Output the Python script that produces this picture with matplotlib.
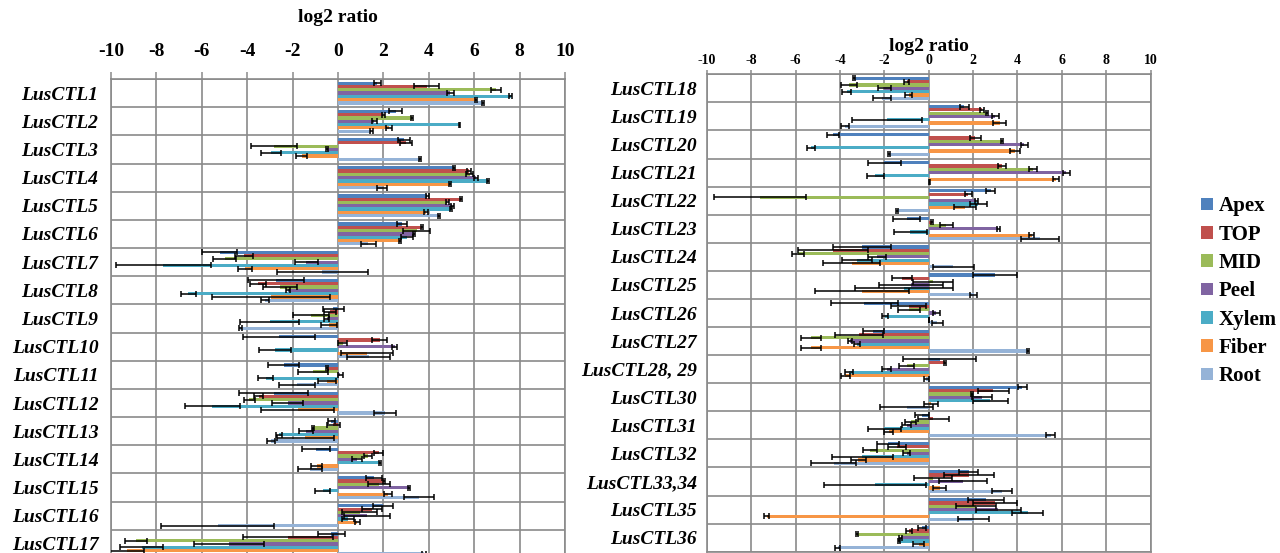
import numpy as np
import matplotlib
matplotlib.use('Agg')
import matplotlib.pyplot as plt
from matplotlib.patches import Patch

plt.rcParams['font.family'] = ['Liberation Serif', 'DejaVu Serif']

series = ['Apex', 'TOP', 'MID', 'Peel', 'Xylem', 'Fiber', 'Root']
colors = ['#4F81BD', '#C0504D', '#9BBB59', '#8064A2', '#4BACC6', '#F79646', '#95B3D7']

# ---- left panel: LusCTL1 - LusCTL17 ----
genes_left = ['LusCTL1', 'LusCTL2', 'LusCTL3', 'LusCTL4', 'LusCTL5', 'LusCTL6',
              'LusCTL7', 'LusCTL8', 'LusCTL9', 'LusCTL10', 'LusCTL11', 'LusCTL12',
              'LusCTL13', 'LusCTL14', 'LusCTL15', 'LusCTL16', 'LusCTL17']
apex_l = [1.74, 2.54, 2.9, 5.12, 3.94, 2.82, -5.2, -2.72, -0.2, -2.6, -2.4, -2.84, -0.3, -0.97, 1.57, 2.0, -0.3]
top_l = [3.9, 2.0, 3.0, 5.78, 5.41, 3.69, -4.15, -3.53, -0.35, 1.84, -0.5, -3.5, -0.2, 1.79, 2.03, 1.5, -2.2]
mid_l = [6.96, 3.25, -2.82, 5.8, 4.82, 3.46, -5.0, -2.54, -1.2, 0.2, -1.09, -3.9, -1.1, 1.31, 1.81, 0.96, -8.9]
peel_l = [4.94, 1.6, -0.47, 6.07, 5.04, 3.35, -1.4, -2.2, -0.5, 2.5, 0.1, -2.22, -1.4, 0.85, 3.13, 1.28, -4.8]
xylem_l = [7.6, 5.34, -2.96, 6.6, 4.97, 3.03, -7.7, -6.6, -3.0, -2.76, -3.19, -5.53, -2.6, 1.85, -0.68, 0.44, -8.65]
fiber_l = [6.07, 2.25, -1.6, 4.93, 3.87, 2.72, -4.1, -2.94, -0.4, 1.27, -0.5, -1.78, -1.44, -0.94, 2.2, 0.85, -9.3]
root_l = [6.4, 1.47, 3.6, 1.94, 4.46, 1.34, -0.7, -3.2, -4.3, 1.35, -1.8, 2.06, -2.95, -1.22, 3.56, -5.3, 3.8]

apex_l_err = [0.15, 0.3, 0.25, 0.05, 0.05, 0.2, 0.77, 1.24, 0.45, 1.57, 0.7, 1.5, 0.15, 0.6, 0.35, 0.44, 0.6]
top_l_err = [0.55, 0.05, 0.25, 0.1, 0.05, 0.05, 0.4, 0.36, 0.25, 0.33, 0.05, 0.2, 0.3, 0.2, 0.05, 0.45, 2.0]
mid_l_err = [0.2, 0.05, 1.0, 0.15, 0.05, 0.6, 0.5, 0.75, 0.8, 0.2, 0.66, 0.24, 0.05, 0.17, 0.48, 0.77, 0.5]
peel_l_err = [0.15, 0.1, 0.05, 0.1, 0.05, 0.05, 0.5, 0.1, 0.1, 0.1, 0.1, 0.7, 0.3, 0.22, 0.05, 1.0, 1.55]
xylem_l_err = [0.05, 0.02, 0.43, 0.05, 0.05, 0.27, 2.1, 0.33, 1.3, 0.7, 0.32, 1.2, 0.15, 0.05, 0.33, 0.26, 0.95]
fiber_l_err = [0.05, 0.15, 0.25, 0.05, 0.1, 0.05, 0.3, 2.6, 0.35, 1.15, 0.4, 1.6, 1.26, 0.24, 0.18, 0.1, 0.75]
root_l_err = [0.05, 0.05, 0.05, 0.2, 0.05, 0.33, 2.0, 0.18, 0.05, 0.95, 0.78, 0.48, 0.18, 0.53, 0.65, 2.5, 0.08]

# ---- right panel: LusCTL18 - LusCTL36 ----
genes_right = ['LusCTL18', 'LusCTL19', 'LusCTL20', 'LusCTL21', 'LusCTL22', 'LusCTL23',
               'LusCTL24', 'LusCTL25', 'LusCTL26', 'LusCTL27', 'LusCTL28, 29', 'LusCTL30',
               'LusCTL31', 'LusCTL32', 'LusCTL33,34', 'LusCTL35', 'LusCTL36']
apex_r = [-3.36, 1.6, -4.3, -2.0, 2.8, -1.0, -3.0, 3.0, -2.9, -2.5, 0.5, 4.22, -0.3, -1.85, 1.8, 2.58, -0.3]
top_r = [-1.0, 2.39, 2.1, 3.3, 1.78, 0.15, -4.3, -1.2, -0.9, -3.15, 0.73, 2.9, 0.2, -1.43, 1.82, 3.0, -0.9]
mid_r = [-3.6, 2.64, 3.29, 4.7, -7.6, 0.8, -5.9, 0.2, -0.9, -5.3, -1.0, 1.94, -0.8, -2.66, 0.2, 2.15, -3.24]
peel_r = [-2.0, 3.0, 4.31, 6.2, 2.15, 3.14, -2.33, -0.8, 0.35, -3.55, -1.9, 2.4, -1.0, -1.0, 1.55, 3.14, -1.27]
xylem_r = [-3.7, -1.86, -5.3, -2.4, 2.24, -0.83, -3.24, -1.1, -1.97, -3.23, -3.6, 2.78, -2.0, -3.0, -2.4, 4.47, -1.35]
fiber_r = [-0.9, 3.2, 3.89, 5.75, 1.62, 4.64, -3.47, -3.0, 0.0, -5.3, -3.75, 0.1, -1.8, -3.18, 0.5, -7.3, -0.45]
root_r = [-2.1, -3.77, -1.79, 0.05, -1.44, 5.0, 1.1, 2.03, 0.38, 4.49, -0.1, -1.0, 5.5, -4.28, 3.3, 2.03, -4.1]

apex_r_err = [0.05, 0.2, 0.27, 0.74, 0.2, 0.6, 1.3, 1.0, 1.5, 0.47, 1.65, 0.19, 0.3, 0.5, 0.43, 0.8, 0.2]
top_r_err = [0.1, 0.1, 0.25, 0.2, 0.15, 0.05, 1.58, 0.44, 0.8, 1.07, 0.05, 0.7, 0.7, 0.4, 1.13, 1.0, 0.13]
mid_r_err = [0.35, 0.05, 0.05, 0.17, 2.07, 0.28, 0.27, 0.9, 0.5, 0.43, 0.34, 0.05, 0.25, 0.32, 0.86, 0.9, 0.05]
peel_r_err = [0.3, 0.17, 0.17, 0.15, 0.05, 0.05, 0.4, 1.44, 0.15, 0.08, 0.2, 0.47, 0.2, 0.18, 1.07, 1.0, 0.05]
xylem_r_err = [0.22, 1.58, 0.2, 0.4, 0.4, 0.74, 0.68, 2.2, 0.13, 0.14, 0.17, 0.8, 0.75, 1.37, 2.3, 0.7, 0.05]
fiber_r_err = [0.17, 0.3, 0.22, 0.13, 0.5, 0.1, 1.28, 2.1, 0.0, 0.45, 0.2, 0.3, 0.2, 0.34, 0.3, 0.12, 0.24]
root_r_err = [0.4, 0.19, 0.05, 0.03, 0.05, 0.86, 0.92, 0.15, 0.25, 0.05, 0.1, 1.2, 0.2, 1.0, 0.47, 0.7, 0.1]

xticks = [-10, -8, -6, -4, -2, 0, 2, 4, 6, 8, 10]
grid_col = '#8a8a8a'


def draw_panel(ax, genes, vals, errs, tick_fs, label_fs):
    n = len(genes)
    bh = 0.117
    for j in range(len(series)):
        y = np.arange(n) + 0.5 + (j - 3) * bh
        ax.barh(y, vals[j], height=bh * 0.97, color=colors[j], xerr=errs[j],
                error_kw=dict(ecolor='black', elinewidth=1.1, capsize=2.2, capthick=1.1),
                zorder=3)
    ax.set_xlim(-10, 10)
    ax.set_ylim(n, 0)
    ax.set_xticks(xticks)
    ax.set_xticklabels([str(t) for t in xticks], fontsize=tick_fs, fontweight='bold')
    ax.xaxis.tick_top()
    ax.tick_params(axis='x', length=5, color=grid_col, width=1.1, pad=9)
    ax.set_yticks(np.arange(n) + 0.5)
    ax.set_yticklabels(genes, fontsize=label_fs, fontweight='bold', fontstyle='italic')
    ax.set_yticks(np.arange(n + 1), minor=True)
    ax.tick_params(axis='y', which='both', length=0, pad=9)
    ax.grid(True, axis='x', which='major', color=grid_col, linewidth=1.2, zorder=0)
    ax.grid(True, axis='y', which='minor', color=grid_col, linewidth=1.2, zorder=0)
    for s in ax.spines.values():
        s.set_color(grid_col)
        s.set_linewidth(1.2)
    ax.set_axisbelow(True)


fig = plt.figure(figsize=(12.8, 5.53), dpi=100)

ax1 = fig.add_axes([111 / 1280, 1 - 558 / 553, 454 / 1280, 479 / 553])
draw_panel(ax1, genes_left,
           [apex_l, top_l, mid_l, peel_l, xylem_l, fiber_l, root_l],
           [apex_l_err, top_l_err, mid_l_err, peel_l_err, xylem_l_err, fiber_l_err, root_l_err],
           14, 14)

ax2 = fig.add_axes([706.7 / 1280, 1 - 551.7 / 553, 444 / 1280, 477.4 / 553])
draw_panel(ax2, genes_right,
           [apex_r, top_r, mid_r, peel_r, xylem_r, fiber_r, root_r],
           [apex_r_err, top_r_err, mid_r_err, peel_r_err, xylem_r_err, fiber_r_err, root_r_err],
           10, 14)
ax2.tick_params(axis='x', length=3, pad=2)
ax2.tick_params(axis='y', pad=7)

fig.text(338 / 1280, 1 - 17 / 553, 'log2 ratio', ha='center', va='center',
         fontsize=14, fontweight='bold')
fig.text(929 / 1280, 1 - 47 / 553, 'log2 ratio', ha='center', va='center',
         fontsize=14, fontweight='bold')

handles = [Patch(facecolor=c, edgecolor='none') for c in colors]
fig.legend(handles, series, loc='upper left', bbox_to_anchor=(1193 / 1280, 1 - 188 / 553),
           frameon=False, prop=dict(family='Liberation Serif', weight='bold', size=15),
           handlelength=0.55, handleheight=0.55, handletextpad=0.3, labelspacing=0.4,
           borderaxespad=0)

fig.savefig('out.png', dpi=100)
